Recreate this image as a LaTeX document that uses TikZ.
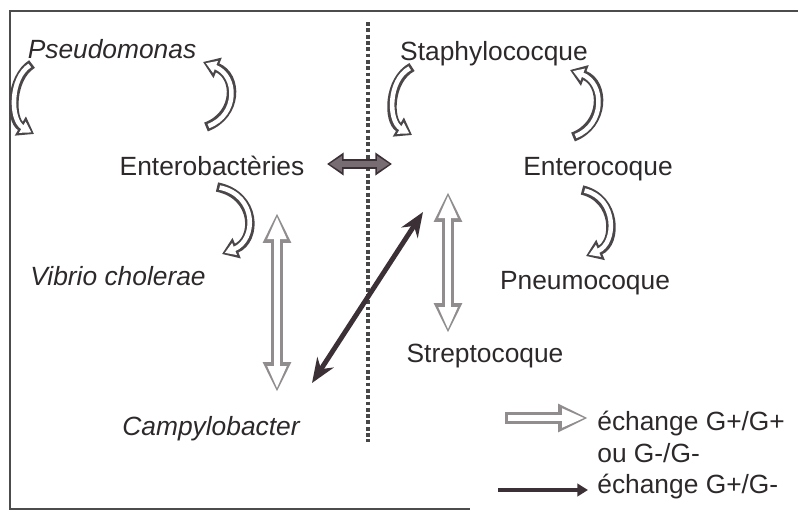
\documentclass[tikz,border=0pt]{standalone}
\usepackage{fontspec}
\setmainfont{Liberation Sans}
\usetikzlibrary{arrows.meta}

\definecolor{textgray}{RGB}{45,41,43}
\definecolor{loopgray}{RGB}{75,70,73}
\definecolor{palegray}{RGB}{145,141,143}
\definecolor{midgray}{RGB}{118,108,114}
\definecolor{darkarrow}{RGB}{58,48,54}

\begin{document}
\begin{tikzpicture}[x=0.02cm, y=-0.02cm]
\tikzstyle{bact} = [text=textgray, inner sep=0pt, anchor=base, font=\fontsize{15}{18}\selectfont]
\tikzstyle{bactit} = [bact, font=\fontsize{15}{18}\selectfont\itshape]
\tikzstyle{legendtxt} = [bact, anchor=base west]
\tikzstyle{cycler} = [draw=white, line width=2.6pt, shorten <=1.5pt, shorten >=1.7pt, -{Triangle[width=7pt,length=6pt]},
  preaction={draw=loopgray, line width=5.4pt, shorten <=0pt, shorten >=0pt, -{Triangle[width=12pt,length=9pt]}}]
\tikzstyle{paleboth} = [draw=white, line width=3.6pt, shorten <=1.8pt, shorten >=1.8pt, {Triangle[width=10pt,length=13pt]}-{Triangle[width=10pt,length=13pt]},
  preaction={draw=palegray, line width=7pt, shorten <=0pt, shorten >=0pt, {Triangle[width=15pt,length=17pt]}-{Triangle[width=15pt,length=17pt]}}]
\tikzstyle{paleone} = [draw=white, line width=3.6pt, shorten <=1.8pt, shorten >=1.8pt, -{Triangle[width=10pt,length=13pt]},
  preaction={draw=palegray, line width=7pt, shorten <=0pt, shorten >=0pt, -{Triangle[width=15pt,length=17pt]}}]
\tikzstyle{thickboth} = [draw=midgray, line width=3.4pt, shorten <=1.4pt, shorten >=1.4pt, {Triangle[width=8.5pt,length=7pt]}-{Triangle[width=8.5pt,length=7pt]},
  preaction={draw=darkarrow, line width=6pt, shorten <=0pt, shorten >=0pt, {Triangle[width=12.5pt,length=9.5pt]}-{Triangle[width=12.5pt,length=9.5pt]}}]
\tikzstyle{darkboth} = [draw=darkarrow, line width=2.8pt, {Stealth[width=11pt,length=14pt]}-{Stealth[width=11pt,length=14pt]}]
\tikzstyle{darkone} = [draw=darkarrow, line width=2.8pt, -{Triangle[width=7pt,length=6pt]}]
\tikzstyle{divider} = [draw=black!72, line width=1.8pt, dash pattern=on 2.2pt off 1.4pt]

\useasboundingbox (0,0) rectangle (798,511);

\draw[black!70, line width=1.2pt] (798,11) -- (10,11) -- (10,509) -- (470,509);

\coordinate (dv1) at (368,22);
\coordinate (dv2) at (368,442);
\draw[divider] (dv1) -- (dv2);

% Gram negative side
\node[bactit] (pseudo) at (112,58) {Pseudomonas};
\node[bact] (entero) at (212,175) {Enterobactèries};
\node[bactit] (vibrio) at (118,285) {Vibrio cholerae};
\node[bactit] (campy) at (211,435) {Campylobacter};

% Gram positive side
\node[bact] (staph) at (494,60) {Staphylococque};
\node[bact] (enteroc) at (598,175) {Enterocoque};
\node[bact] (pneumo) at (585,289) {Pneumocoque};
\node[bact] (strepto) at (485,362) {Streptocoque};

\coordinate (pl1) at (32,64);
\coordinate (pl2) at (34,134);
\draw[cycler] (pl1) .. controls (10,78) and (10,120) .. (pl2);

\coordinate (pr1) at (206,127);
\coordinate (pr2) at (203,62);
\draw[cycler] (pr1) .. controls (238,115) and (238,76) .. (pr2);

\coordinate (sl1) at (412,67);
\coordinate (sl2) at (412,135);
\draw[cycler] (sl1) .. controls (388,80) and (388,121) .. (sl2);

\coordinate (sr1) at (573,137);
\coordinate (sr2) at (570,70);
\draw[cycler] (sr1) .. controls (605,125) and (605,83) .. (sr2);

\coordinate (ev1) at (217,187);
\coordinate (ev2) at (222,254);
\draw[cycler] (ev1) .. controls (257,195) and (257,240) .. (ev2);

\coordinate (ep1) at (582,190);
\coordinate (ep2) at (586,256);
\draw[cycler] (ep1) .. controls (617,198) and (617,243) .. (ep2);

\coordinate (ec1) at (277,213);
\coordinate (ec2) at (277,392);
\draw[paleboth] (ec1) -- (ec2);

\coordinate (ss1) at (448,192);
\coordinate (ss2) at (448,333);
\draw[paleboth] (ss1) -- (ss2);

\coordinate (hz1) at (327,164);
\coordinate (hz2) at (392,164);
\draw[thickboth] (hz1) -- (hz2);

\coordinate (dg1) at (312,383);
\coordinate (dg2) at (423,212);
\draw[darkboth] (dg1) -- (dg2);

% legend
\node[legendtxt] (leg1) at (597,430) {échange G+/G+};
\node[legendtxt] (leg2) at (597,462) {ou G-/G-};
\node[legendtxt] (leg3) at (597,493) {échange G+/G-};

\coordinate (lw1) at (505,418);
\coordinate (lw2) at (588,418);
\draw[paleone] (lw1) -- (lw2);

\coordinate (ld1) at (498,490);
\coordinate (ld2) at (588,490);
\draw[darkone] (ld1) -- (ld2);

\end{tikzpicture}
\end{document}
